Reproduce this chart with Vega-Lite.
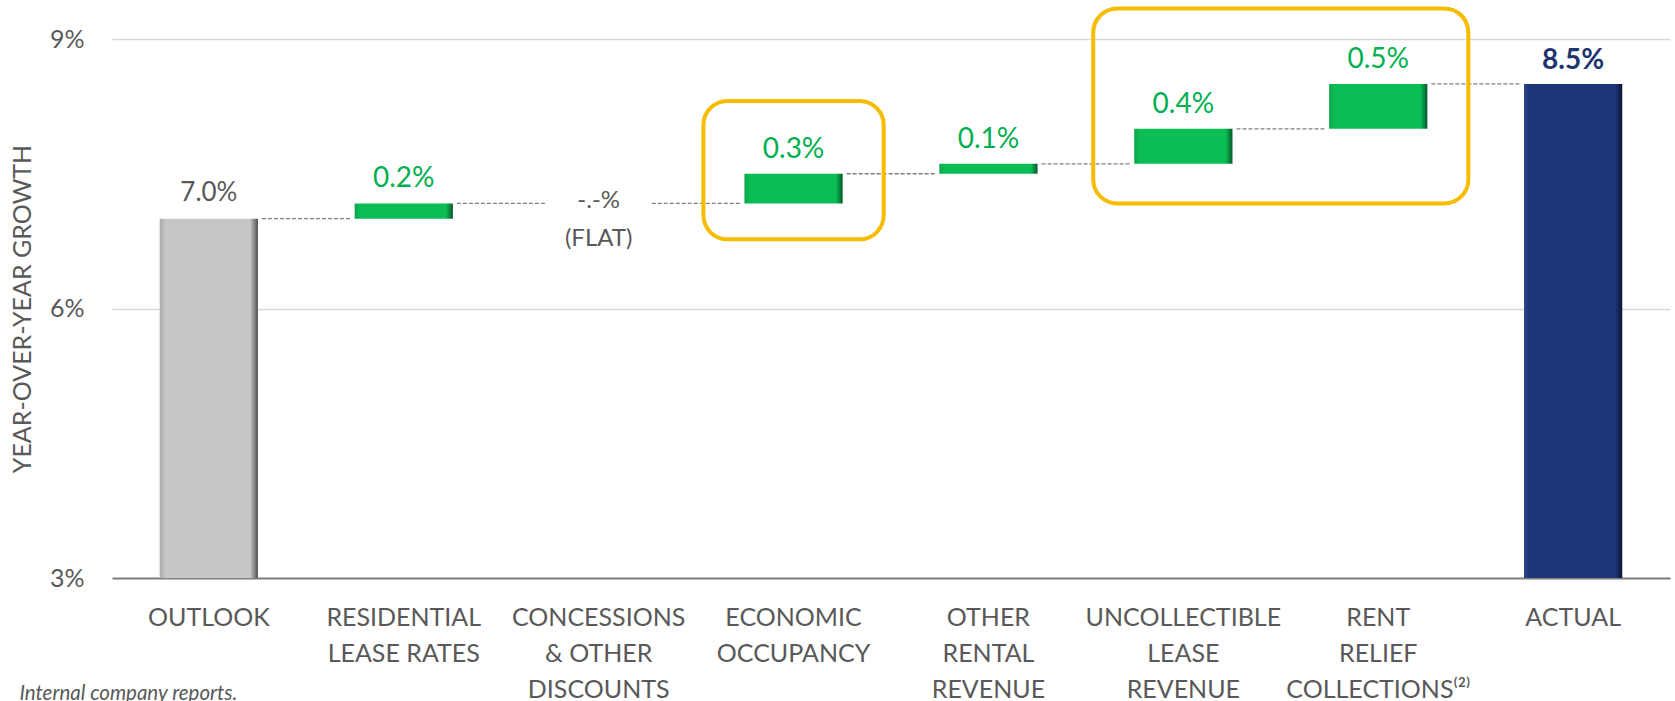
{
  "$schema": "https://vega.github.io/schema/vega-lite/v6.json",
  "width": 1558,
  "height": 539,
  "autosize": {"type": "none"},
  "padding": {"left": 112, "top": 39, "right": 5, "bottom": 123},
  "background": "white",
  "config": {
    "view": {"stroke": null},
    "font": "Lato",
    "text": {"font": "Lato"}
  },
  "title": {
    "text": "Internal company reports.",
    "orient": "bottom",
    "anchor": "start",
    "frame": "bounds",
    "offset": -18,
    "dx": 9,
    "font": "Lato",
    "fontSize": 20.5,
    "fontStyle": "italic",
    "fontWeight": "normal",
    "color": "#595959"
  },
  "datasets": {
    "steps": [
      {"step": "OUTLOOK", "start": 3, "end": 7.0, "type": "outlook", "label": "7.0%"},
      {"step": "RESIDENTIAL|LEASE RATES", "start": 7.0, "end": 7.17, "type": "increase", "label": "0.2%"},
      {"step": "CONCESSIONS|& OTHER|DISCOUNTS", "start": 7.17, "end": 7.17, "type": "flat", "label": "-.-%\n(FLAT)"},
      {"step": "ECONOMIC|OCCUPANCY", "start": 7.17, "end": 7.5, "type": "increase", "label": "0.3%"},
      {"step": "OTHER|RENTAL|REVENUE", "start": 7.5, "end": 7.61, "type": "increase", "label": "0.1%"},
      {"step": "UNCOLLECTIBLE|LEASE|REVENUE", "start": 7.61, "end": 8.0, "type": "increase", "label": "0.4%"},
      {"step": "RENT|RELIEF|COLLECTIONS⁽²⁾", "start": 8.0, "end": 8.5, "type": "increase", "label": "0.5%"},
      {"step": "ACTUAL", "start": 3, "end": 8.5, "type": "actual", "label": "8.5%"}
    ],
    "connectors": [
      {"from": "OUTLOOK", "to": "RESIDENTIAL|LEASE RATES", "level": 7.0},
      {"from": "RESIDENTIAL|LEASE RATES", "to": "CONCESSIONS|& OTHER|DISCOUNTS", "level": 7.17},
      {"from": "CONCESSIONS|& OTHER|DISCOUNTS", "to": "ECONOMIC|OCCUPANCY", "level": 7.17},
      {"from": "ECONOMIC|OCCUPANCY", "to": "OTHER|RENTAL|REVENUE", "level": 7.5},
      {"from": "OTHER|RENTAL|REVENUE", "to": "UNCOLLECTIBLE|LEASE|REVENUE", "level": 7.61},
      {"from": "UNCOLLECTIBLE|LEASE|REVENUE", "to": "RENT|RELIEF|COLLECTIONS⁽²⁾", "level": 8.0},
      {"from": "RENT|RELIEF|COLLECTIONS⁽²⁾", "to": "ACTUAL", "level": 8.5}
    ],
    "boxes": [
      {"from": "ECONOMIC|OCCUPANCY", "to": "ECONOMIC|OCCUPANCY", "top": 8.31, "bottom": 6.77},
      {"from": "UNCOLLECTIBLE|LEASE|REVENUE", "to": "RENT|RELIEF|COLLECTIONS⁽²⁾", "top": 9.34, "bottom": 7.17}
    ]
  },
  "layer": [
    {
      "data": {"name": "steps"},
      "transform": [{"filter": "datum.type === 'outlook'"}],
      "mark": {
        "type": "bar",
        "color": {"gradient": "linear", "x1": 0, "x2": 1, "y1": 0, "y2": 0,
          "stops": [
            {"offset": 0, "color": "#A8A9A8"},
            {"offset": 0.06, "color": "#C6C7C6"},
            {"offset": 0.92, "color": "#C6C7C6"},
            {"offset": 1, "color": "#4F4F4F"}
          ]}
      },
      "encoding": {
        "x": {
          "field": "step", "type": "nominal", "sort": null, "title": null,
          "scale": {
            "domain": ["OUTLOOK", "RESIDENTIAL|LEASE RATES", "CONCESSIONS|& OTHER|DISCOUNTS", "ECONOMIC|OCCUPANCY", "OTHER|RENTAL|REVENUE", "UNCOLLECTIBLE|LEASE|REVENUE", "RENT|RELIEF|COLLECTIONS⁽²⁾", "ACTUAL"],
            "paddingInner": 0.496, "paddingOuter": 0.245
          },
          "axis": {
            "labelExpr": "split(datum.label, '|')",
            "labelAngle": 0,
            "labelBaseline": "top",
            "labelPadding": 27,
            "labelLineHeight": 36,
            "labelFont": "Lato",
            "labelFontSize": 25,
            "labelColor": "#595959",
            "labelOverlap": false,
            "labelLimit": 0,
            "ticks": false,
            "domain": true,
            "domainColor": "#808080",
            "domainWidth": 2,
            "grid": false
          }
        },
        "y": {
          "field": "start", "type": "quantitative",
          "scale": {"domain": [3, 9], "nice": false, "zero": false},
          "axis": {
            "values": [3, 6, 9],
            "labelExpr": "datum.value + '%'",
            "labelFont": "Lato",
            "labelFontSize": 25,
            "labelColor": "#595959",
            "labelPadding": 28,
            "ticks": false,
            "domain": false,
            "grid": true,
            "gridColor": "#D9D9D9",
            "gridWidth": 1.5,
            "title": "YEAR-OVER-YEAR GROWTH",
            "titleFont": "Lato",
            "titleFontSize": 25,
            "titleFontWeight": "normal",
            "titleColor": "#595959",
            "titlePadding": 14
          }
        },
        "y2": {"field": "end"}
      }
    },
    {
      "data": {"name": "steps"},
      "transform": [{"filter": "datum.type === 'increase'"}],
      "mark": {
        "type": "bar",
        "color": {"gradient": "linear", "x1": 0, "x2": 1, "y1": 0, "y2": 0,
          "stops": [
            {"offset": 0, "color": "#0AA64A"},
            {"offset": 0.06, "color": "#0BBD55"},
            {"offset": 0.93, "color": "#0BBD55"},
            {"offset": 1, "color": "#05582A"}
          ]}
      },
      "encoding": {
        "x": {"field": "step", "type": "nominal", "sort": null, "title": null},
        "y": {"field": "start", "type": "quantitative"},
        "y2": {"field": "end"}
      }
    },
    {
      "data": {"name": "steps"},
      "transform": [{"filter": "datum.type === 'actual'"}],
      "mark": {
        "type": "bar",
        "color": {"gradient": "linear", "x1": 0, "x2": 1, "y1": 0, "y2": 0,
          "stops": [
            {"offset": 0, "color": "#2B4688"},
            {"offset": 0.05, "color": "#1C3578"},
            {"offset": 0.93, "color": "#1C3578"},
            {"offset": 1, "color": "#0A1431"}
          ]}
      },
      "encoding": {
        "x": {"field": "step", "type": "nominal", "sort": null, "title": null},
        "y": {"field": "start", "type": "quantitative"},
        "y2": {"field": "end"}
      }
    },
    {
      "data": {"name": "connectors"},
      "mark": {"type": "rule", "color": "#7F7F7F", "strokeWidth": 1.3, "strokeDash": [4, 2], "xOffset": 4, "x2Offset": -4},
      "encoding": {
        "x": {"field": "from", "type": "nominal", "sort": null, "bandPosition": 1, "title": null},
        "x2": {"field": "to", "bandPosition": 0},
        "y": {"field": "level", "type": "quantitative"}
      }
    },
    {
      "data": {"name": "boxes"},
      "mark": {"type": "rect", "fill": null, "filled": false, "stroke": "#F5BC00", "strokeWidth": 4, "cornerRadius": 24, "xOffset": -41, "x2Offset": 41},
      "encoding": {
        "x": {"field": "from", "type": "nominal", "sort": null, "bandPosition": 0, "title": null},
        "x2": {"field": "to", "bandPosition": 1},
        "y": {"field": "top", "type": "quantitative"},
        "y2": {"field": "bottom"}
      }
    },
    {
      "data": {"name": "steps"},
      "transform": [{"filter": "datum.type === 'outlook'"}],
      "mark": {"type": "text", "font": "Lato", "fontSize": 26, "color": "#595959", "baseline": "alphabetic", "dy": -18},
      "encoding": {
        "x": {"field": "step", "type": "nominal", "sort": null, "title": null},
        "y": {"field": "end", "type": "quantitative"},
        "text": {"field": "label"}
      }
    },
    {
      "data": {"name": "steps"},
      "transform": [{"filter": "datum.type === 'increase'"}],
      "mark": {"type": "text", "font": "Lato", "fontSize": 28, "color": "#00B050", "baseline": "alphabetic", "dy": -16},
      "encoding": {
        "x": {"field": "step", "type": "nominal", "sort": null, "title": null},
        "y": {"field": "end", "type": "quantitative"},
        "text": {"field": "label"}
      }
    },
    {
      "data": {"name": "steps"},
      "transform": [{"filter": "datum.type === 'actual'"}],
      "mark": {"type": "text", "font": "Lato", "fontSize": 28, "fontWeight": "bold", "color": "#1F3570", "baseline": "alphabetic", "dy": -15},
      "encoding": {
        "x": {"field": "step", "type": "nominal", "sort": null, "title": null},
        "y": {"field": "end", "type": "quantitative"},
        "text": {"field": "label"}
      }
    },
    {
      "data": {"name": "steps"},
      "transform": [{"filter": "datum.type === 'flat'"}],
      "mark": {"type": "text", "font": "Lato", "fontSize": 24, "color": "#595959", "baseline": "alphabetic", "dy": 5, "lineBreak": "\n", "lineHeight": 38},
      "encoding": {
        "x": {"field": "step", "type": "nominal", "sort": null, "title": null},
        "y": {"field": "end", "type": "quantitative"},
        "text": {"field": "label"}
      }
    }
  ]
}
